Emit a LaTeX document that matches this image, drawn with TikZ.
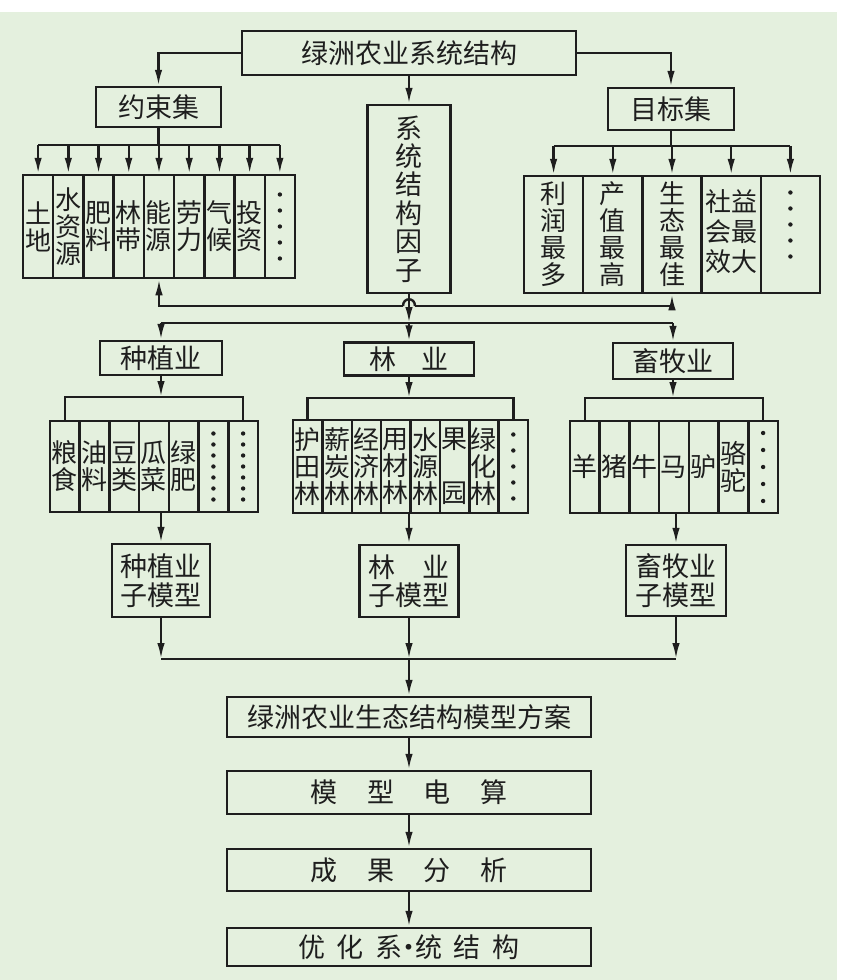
\documentclass[tikz,border=0pt]{standalone}
\usepackage{fontspec}
\newfontfamily\cjk{Noto Sans CJK SC}
\usetikzlibrary{arrows.meta}
\definecolor{bg}{RGB}{228,240,222}
\definecolor{ink}{RGB}{30,30,30}
\tikzset{
  box/.style={draw=ink, line width=2.5pt, inner sep=0pt, align=center, text=ink,
    font=\cjk\fontsize{27}{28.4}\selectfont},
  cell/.style={box, font=\cjk\fontsize{26}{27}\selectfont},
  wire/.style={draw=ink, line width=2.4pt},
  arr/.style={wire, -{Latex[length=16pt,width=7.5pt]}},
  dot/.style={fill=ink}
}
\begin{document}
\begin{tikzpicture}[x=1pt, y=-1pt]
\useasboundingbox (0,0) rectangle (853,980);
\fill[white] (0,0) rectangle (853,980);
\fill[bg] (0,12) rectangle (837,980);

\node[box, minimum width=334pt, minimum height=44pt] (sys) at (409,53) {绿洲农业系统结构};
\node[box, minimum width=125pt, minimum height=40pt] (cons) at (158.5,107) {约束集};
\node[box, minimum width=126pt, minimum height=42pt] (goal) at (671,109) {目标集};
\node[box, minimum width=83pt, minimum height=188pt] (fac) at (409,199) {系\\统\\结\\构\\因\\子};

\foreach \t [count=\i] in {{土\\地},{水\\资\\源},{肥\\料},{林\\带},{能\\源},{劳\\力},{气\\候},{投\\资},{}}
  \node[cell, minimum width=30.22pt, minimum height=103pt] (cons\i) at ({23+30.22*(\i-0.5)},226.5) {\t};
\foreach \t [count=\i] in {{利\\润\\最\\多},{产\\值\\最\\高},{生\\态\\最\\佳},{\begin{tabular}{@{}c@{}c@{}}社&益\\会&最\\效&大\end{tabular}},{}}
  \node[cell, minimum width=59.2pt, minimum height=117pt] (goal\i) at ({524+59.2*(\i-0.5)},234.5) {\t};
\foreach \k in {-2,...,2} {
  \fill[dot] ([yshift=\k*16pt]cons9.center) circle (2.2pt);
  \fill[dot] ([yshift=\k*16pt+10pt]goal5.center) circle (2.2pt);
}

\coordinate (consbus) at (158.5,145);
\coordinate (goalbus) at (671,146);
\draw[arr] (sys.west) -| (cons.north);
\draw[arr] (sys.east) -| (goal.north);
\draw[arr] (sys.south) -- (fac.north);
\draw[wire] (cons.south) -- (consbus);
\draw[wire] (cons1.north |- consbus) -- (cons9.north |- consbus);
\foreach \i in {1,...,9}
  \draw[arr] (cons\i.north |- consbus) -- (cons\i.north);
\draw[wire] (goal.south) -- (goalbus);
\draw[wire] (goal1.north |- goalbus) -- (goal5.north |- goalbus);
\foreach \i in {1,...,5}
  \draw[arr] (goal\i.north |- goalbus) -- (goal\i.north);

\coordinate (hop) at (409,306);
\draw[arr] ([xshift=-6pt]hop) -- (hop -| cons5.south) -- (cons5.south);
\draw[arr] ([xshift=6pt]hop) -- (hop -| goal3.south) -- (goal3.south);
\draw[wire] ([xshift=-6pt]hop) .. controls +(0,-9) and +(0,-9) .. ([xshift=6pt]hop);

\node[box, minimum width=122pt, minimum height=34pt] (crop) at (161,358) {种植业};
\node[box, minimum width=130pt, minimum height=33pt] (forest) at (409,359) {林\hspace{25pt}业};
\node[box, minimum width=120pt, minimum height=36pt] (stock) at (673,361) {畜牧业};

\coordinate (lowbus) at (409,323);
\draw[arr] (fac.south) -- (lowbus);
\draw[arr] (lowbus) -- (forest.north);
\draw[wire] (lowbus -| crop.north) -- (lowbus -| stock.north);
\draw[arr] (lowbus -| crop.north) -- (crop.north);
\draw[arr] (lowbus -| stock.north) -- (stock.north);

\foreach \t [count=\i] in {{粮\\食},{油\\料},{豆\\类},{瓜\\菜},{绿\\肥},{},{}}
  \node[cell, minimum width=29.71pt, minimum height=91pt] (crop\i) at ({50+29.71*(\i-0.5)},466.5) {\t};
\foreach \t [count=\i] in {{护\\田\\林},{薪\\炭\\林},{经\\济\\林},{用\\材\\林},{水\\源\\林},{果\\~\\园},{绿\\化\\林},{}}
  \node[cell, minimum width=29.375pt, minimum height=93pt] (forest\i) at ({293+29.375*(\i-0.5)},466.5) {\t};
\foreach \t [count=\i] in {羊,猪,牛,马,驴,{骆\\驼},{}}
  \node[cell, minimum width=29.71pt, minimum height=92pt] (stock\i) at ({570+29.71*(\i-0.5)},467) {\t};
\foreach \k in {-3,...,3} {
  \fill[dot] ([yshift=\k*11pt]crop6.center) circle (2.2pt);
  \fill[dot] ([yshift=\k*11pt]crop7.center) circle (2.2pt);
}
\foreach \k in {-2,...,2} {
  \fill[dot] ([yshift=\k*16pt]forest8.center) circle (2.2pt);
  \fill[dot] ([yshift=\k*17pt]stock7.center) circle (2.2pt);
}

\coordinate (cropbr) at (161,397);
\coordinate (forestbr) at (409,398);
\coordinate (stockbr) at (673,398);
\draw[arr] (crop.south) -- (cropbr);
\draw[wire] (crop1.north) |- (cropbr) -| (crop7.north);
\draw[arr] (forest.south) -- (forestbr);
\draw[wire] (forest1.north) |- (forestbr) -| (forest8.north);
\draw[arr] (stock.south) -- (stockbr);
\draw[wire] (stock1.north) |- (stockbr) -| (stock7.north);

\node[box, minimum width=98pt, minimum height=73pt] (cropm) at (161,580.5) {种植业\\子模型};
\node[box, minimum width=99pt, minimum height=72pt] (forestm) at (409,581) {林\hspace{27pt}业\\子模型};
\node[box, minimum width=100pt, minimum height=71pt] (stockm) at (676,580.5) {畜牧业\\子模型};

\draw[arr] (cropm.north |- crop1.south) -- (cropm.north);
\draw[arr] (forestm.north |- forest1.south) -- (forestm.north);
\draw[arr] (stockm.north |- stock1.south) -- (stockm.north);

\coordinate (botbus) at (409,659);
\draw[wire] (cropm.south |- botbus) -- (stockm.south |- botbus);
\draw[arr] (cropm.south) -- (cropm.south |- botbus);
\draw[arr] (forestm.south) -- (botbus);
\draw[arr] (stockm.south) -- (stockm.south |- botbus);

\node[box, minimum width=364pt, minimum height=40pt] (plan) at (409,717) {绿洲农业生态结构模型方案};
\node[box, minimum width=364pt, minimum height=43pt] (calc) at (409,792.5) {模\hspace{30pt}型\hspace{30pt}电\hspace{30pt}算};
\node[box, minimum width=364pt, minimum height=42pt] (anal) at (409,870) {成\hspace{30pt}果\hspace{30pt}分\hspace{30pt}析};
\node[box, minimum width=364pt, minimum height=38pt] (opt) at (409,947) {优\hspace{12pt}化\hspace{12pt}系\makebox[12pt]{·}统\hspace{12pt}结\hspace{12pt}构};

\draw[arr] (botbus) -- (plan.north);
\draw[arr] (plan) -- (calc);
\draw[arr] (calc) -- (anal);
\draw[arr] (anal) -- (opt);
\end{tikzpicture}
\end{document}
